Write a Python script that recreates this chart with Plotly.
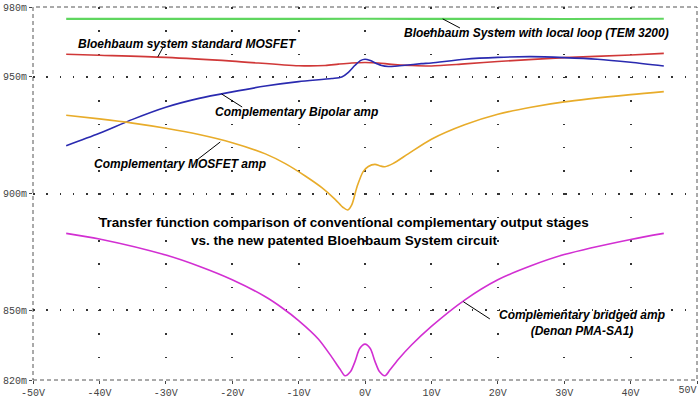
import plotly.graph_objects as go

# ---------------- data ----------------
green_x = [-45, -30, -15, 0, 15, 30, 45]
green_y = [974.9, 974.9, 974.9, 974.95, 974.9, 974.85, 974.95]

red_x = [-45, -40, -30, -20, -10, -6, -4, -2, 0, 2, 4, 7, 10, 15, 20, 30, 40, 45]
red_y = [959.7, 959.3, 958.4, 956.8, 954.8, 954.9, 955.5, 956.0, 956.2, 956.0, 955.4,
         954.9, 954.7, 955.6, 956.6, 958.3, 959.4, 960.1]

blue_x = [-45, -40, -35, -30, -25, -20, -15, -10, -5, -3.5, -2.5, -1.5, -0.7, 0, 0.8,
          1.7, 2.5, 3.5, 4.5, 6, 8.5, 10, 15, 20, 25, 30, 35, 40, 45]
blue_y = [920.5, 925.8, 931.8, 937.0, 940.8, 943.6, 946.1, 948.0, 949.3, 950.0, 952.0,
          955.0, 957.0, 957.6, 957.0, 955.8, 954.9, 954.5, 954.6, 955.0, 955.7, 956.0,
          957.6, 958.4, 958.7, 958.3, 957.6, 956.3, 954.7]

orange_x = [-45, -40, -35, -30, -25, -20, -15, -12, -9, -6.5, -4.5, -3.3, -2.6, -2.0,
            -1.2, -0.3, 0.5, 1.5, 2.3, 3.0, 4.2, 6.5, 10, 15, 20, 25, 30, 40, 45]
orange_y = [933.6, 932.0, 930.2, 928.0, 925.3, 921.8, 917.0, 912.8, 907.5, 902.5, 897.5,
            894.0, 892.9, 895.1, 902.9, 909.3, 911.6, 912.5, 911.8, 911.5, 912.8, 917.0,
            923.3, 929.5, 934.0, 937.0, 939.3, 942.4, 943.7]

magenta_x = [-45, -40, -30, -25, -20, -15, -12.5, -10, -7, -5, -3.8, -3, -2.2, -1.5, -0.8,
             0, 0.8, 1.5, 2.2, 3, 3.8, 5, 7, 10, 15, 20, 25, 30, 40, 45]
magenta_y = [882.9, 880.5, 873.6, 868.8, 863.0, 855.7, 851.0, 845.5, 837.5, 829.8, 824.8,
             821.8, 823.5, 828.0, 833.5, 835.4, 833.5, 828.0, 823.5, 821.8, 824.5, 828.8,
             835.0, 843.0, 854.3, 863.0, 869.0, 873.8, 880.3, 882.9]

x_ticks = [-50, -40, -30, -20, -10, 0, 10, 20, 30, 40, 50]
x_tick_labels = ["-50V", "-40V", "-30V", "-20V", "-10V", "0V", "10V", "20V", "30V", "40V", "50V"]
y_ticks = [820, 850, 900, 950, 980]
y_tick_labels = ["820m", "850m", "900m", "950m", "980m"]

# ---------------- figure ----------------
fig = go.Figure()
series = [
    (green_x, green_y, "#5fd65f", 2.2, "x2"),
    (red_x, red_y, "#d03838", 1.6, "x"),
    (blue_x, blue_y, "#2a2ab0", 1.6, "x"),
    (orange_x, orange_y, "#e8ac2a", 1.6, "x"),
    (magenta_x, magenta_y, "#d22fd2", 1.6, "x"),
]
for xs, ys, col, w, xa in series:
    fig.add_trace(go.Scatter(x=xs, y=ys, mode="lines", xaxis=xa, yaxis="y",
                             line=dict(color=col, width=w, shape="spline", smoothing=0.8),
                             hoverinfo="skip", showlegend=False))

lab_font = dict(family="Liberation Sans, Arial", size=12, color="black")

def label(x, y, text, xanchor="center"):
    fig.add_annotation(x=x, y=y, text="<b><i>" + text + "</i></b>", showarrow=False,
                       xanchor=xanchor, yanchor="middle", font=lab_font)

def leader(x0, y0, x1, y1):
    fig.add_shape(type="line", x0=x0, y0=y0, x1=x1, y1=y1, xref="x", yref="y",
                  line=dict(color="black", width=1))

label(-26.7, 964.1, "Bloehbaum system standard MOSFET")
leader(-30.4, 962.8, -31.2, 958.6)
label(25.8, 969.0, "Bloehbaum System with local loop (TEM 3200)")
leader(11.7, 974.9, 14.3, 971.0)
label(-22.9, 935.0, "Complementary Bipolar amp", xanchor="left")
leader(-21.6, 942.7, -18.5, 937.1)
label(-27.9, 912.6, "Complementary MOSFET amp")
leader(-21.8, 922.1, -25.3, 914.4)
label(19.9, 844.6, "Complementary bridged amp<br>(Denon PMA-SA1)", xanchor="left")
leader(14.8, 853.6, 18.8, 846.2)

fig.add_annotation(x=-3.2, y=883.9,
                   text="<b>Transfer function comparison of conventional complementary output stages"
                        "<br>vs. the new patented Bloehbaum System circuit</b>",
                   showarrow=False, xanchor="center", yanchor="middle",
                   font=dict(family="Liberation Sans, Arial", size=13.5, color="black"))

# dashed plot border
fig.add_shape(type="rect", xref="paper", yref="paper", x0=0, y0=0, x1=1, y1=1,
              line=dict(color="#555555", width=1, dash="4px,3px"), layer="below")

tick_font = dict(family="Liberation Mono, DejaVu Sans Mono, monospace", size=10, color="#444444")

fig.update_layout(
    xaxis=dict(range=[-50, 50], tickvals=x_ticks[:-1], ticktext=x_tick_labels[:-1],
               showgrid=True, gridcolor="#333333", gridwidth=1.5, griddash="1.5px,21.8px",
               zeroline=False, showline=False, ticks="outside", ticklen=3,
               tickcolor="#444444", tickfont=tick_font, automargin=False),
    # second bottom axis only carries the right-edge "50V" label, right-aligned to its tick
    xaxis2=dict(range=[-50, 50], overlaying="x", side="bottom", anchor="y",
                tickvals=x_ticks[-1:], ticktext=x_tick_labels[-1:],
                ticklabelposition="outside left", showgrid=False, zeroline=False,
                showline=False, ticks="outside", ticklen=3, tickcolor="#444444",
                tickfont=tick_font, automargin=False, ticklabeloverflow="allow"),
    yaxis=dict(range=[820, 980], tickvals=y_ticks, ticktext=y_tick_labels,
               showgrid=True, gridcolor="#333333", gridwidth=1.5, griddash="1.5px,11.8px",
               zeroline=False, showline=False, ticks="outside", ticklen=3,
               tickcolor="#444444", tickfont=tick_font, automargin=False),
    width=700, height=398, margin=dict(l=33, r=3, t=7, b=18),
    paper_bgcolor="white", plot_bgcolor="white", showlegend=False)

fig.write_html("out.html", config={"displayModeBar": False},
               post_script="document.body.style.margin='0';document.body.style.overflow='hidden';")
